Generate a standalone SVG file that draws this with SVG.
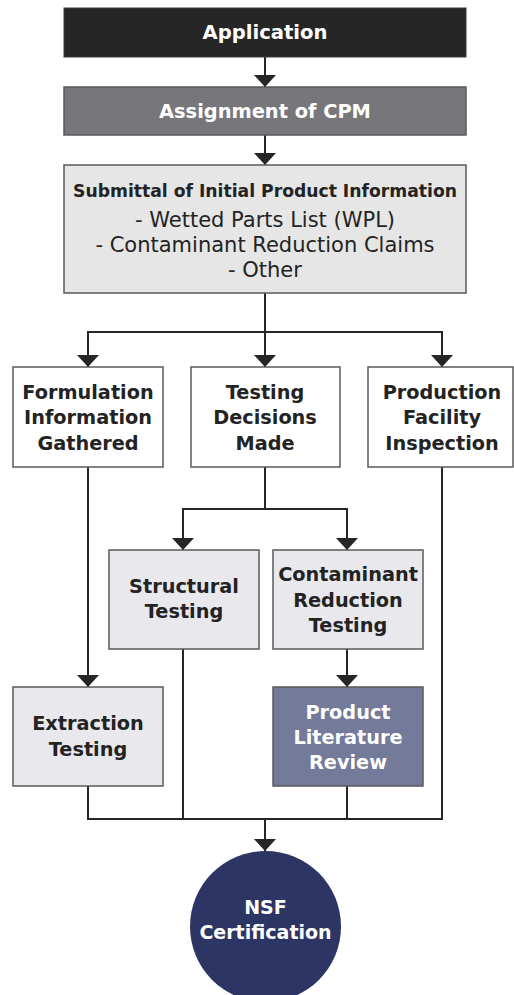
<svg xmlns="http://www.w3.org/2000/svg" width="514" height="995" viewBox="0 0 514 995">
<style>
  .t { font-family: "DejaVu Sans", "Liberation Sans", sans-serif; font-weight: 700; text-anchor: middle; font-size: 19.3px; }
  .w { fill: #ffffff; }
  .d { fill: #232323; }
  .reg { font-weight: 400; font-size: 21px; }
  .box { stroke: #5a5a5a; stroke-width: 1.5; }
  .conn { fill: none; stroke: #262626; stroke-width: 2; }
</style>
<defs>
  <marker id="ah" viewBox="0 0 12 22" refX="12" refY="11" markerWidth="12" markerHeight="22" markerUnits="userSpaceOnUse" orient="auto">
    <path d="M0,0 L12,11 L0,22 Z" fill="#262626"/>
  </marker>
</defs>

<g id="connectors">
  <path class="conn" d="M265,57 V87" marker-end="url(#ah)"/>
  <path class="conn" d="M265,135 V165" marker-end="url(#ah)"/>
  <path class="conn" d="M265,293 V367" marker-end="url(#ah)"/>
  <path class="conn" d="M88,332 H442"/>
  <path class="conn" d="M88,331 V367" marker-end="url(#ah)"/>
  <path class="conn" d="M442,331 V367" marker-end="url(#ah)"/>
  <path class="conn" d="M265,467 V509"/>
  <path class="conn" d="M183,509 H347"/>
  <path class="conn" d="M183,508 V550" marker-end="url(#ah)"/>
  <path class="conn" d="M347,508 V550" marker-end="url(#ah)"/>
  <path class="conn" d="M88,467 V687" marker-end="url(#ah)"/>
  <path class="conn" d="M347,649 V687" marker-end="url(#ah)"/>
  <path class="conn" d="M88,786 V819 H442 V467"/>
  <path class="conn" d="M183,649 V819"/>
  <path class="conn" d="M347,786 V819"/>
  <path class="conn" d="M265,819 V851" marker-end="url(#ah)"/>
</g>

<g id="application">
  <rect x="64" y="8" width="402" height="49" fill="#262626" stroke="#3a3a3a" stroke-width="1"/>
  <text class="t w" x="265" y="39" style="font-size:19.6px">Application</text>
</g>

<g id="assignment">
  <rect class="box" x="64" y="87" width="402" height="48" fill="#77777b"/>
  <text class="t w" x="265" y="118" style="font-size:19.4px">Assignment of CPM</text>
</g>

<g id="submittal">
  <rect class="box" x="64" y="165" width="402" height="128" fill="#e6e6e6"/>
  <text class="t d" x="265" y="197" style="font-size:17.2px">Submittal of Initial Product Information</text>
  <text class="t d reg" x="265" y="227">- Wetted Parts List (WPL)</text>
  <text class="t d reg" x="265" y="252">- Contaminant Reduction Claims</text>
  <text class="t d reg" x="265" y="277">- Other</text>
</g>

<g id="formulation">
  <rect class="box" x="13" y="367" width="150" height="100" fill="#ffffff"/>
  <text class="t d" x="88" y="399">Formulation</text>
  <text class="t d" x="88" y="424">Information</text>
  <text class="t d" x="88" y="450">Gathered</text>
</g>

<g id="testing-decisions">
  <rect class="box" x="191" y="367" width="149" height="100" fill="#ffffff"/>
  <text class="t d" x="265" y="399">Testing</text>
  <text class="t d" x="265" y="424">Decisions</text>
  <text class="t d" x="265" y="450">Made</text>
</g>

<g id="production-facility">
  <rect class="box" x="368" y="367" width="145" height="100" fill="#ffffff"/>
  <text class="t d" x="442" y="399">Production</text>
  <text class="t d" x="442" y="424">Facility</text>
  <text class="t d" x="442" y="450">Inspection</text>
</g>

<g id="structural">
  <rect class="box" x="109" y="550" width="150" height="99" fill="#e8e8ed"/>
  <text class="t d" x="184" y="593">Structural</text>
  <text class="t d" x="184" y="618">Testing</text>
</g>

<g id="contaminant">
  <rect class="box" x="273" y="550" width="150" height="99" fill="#e8e8ed"/>
  <text class="t d" x="348" y="581">Contaminant</text>
  <text class="t d" x="348" y="607">Reduction</text>
  <text class="t d" x="348" y="632">Testing</text>
</g>

<g id="extraction">
  <rect class="box" x="13" y="687" width="150" height="99" fill="#e8e8ed"/>
  <text class="t d" x="88" y="730">Extraction</text>
  <text class="t d" x="88" y="756">Testing</text>
</g>

<g id="product-literature">
  <rect class="box" x="273" y="687" width="150" height="99" fill="#737a9a"/>
  <text class="t w" x="348" y="719">Product</text>
  <text class="t w" x="348" y="744">Literature</text>
  <text class="t w" x="348" y="769">Review</text>
</g>

<g id="nsf-certification">
  <circle cx="265.5" cy="926.5" r="75.5" fill="#2c3563"/>
  <text class="t w" x="265.5" y="914" style="font-size:19px">NSF</text>
  <text class="t w" x="265.5" y="939" style="font-size:19px">Certification</text>
</g>
</svg>
